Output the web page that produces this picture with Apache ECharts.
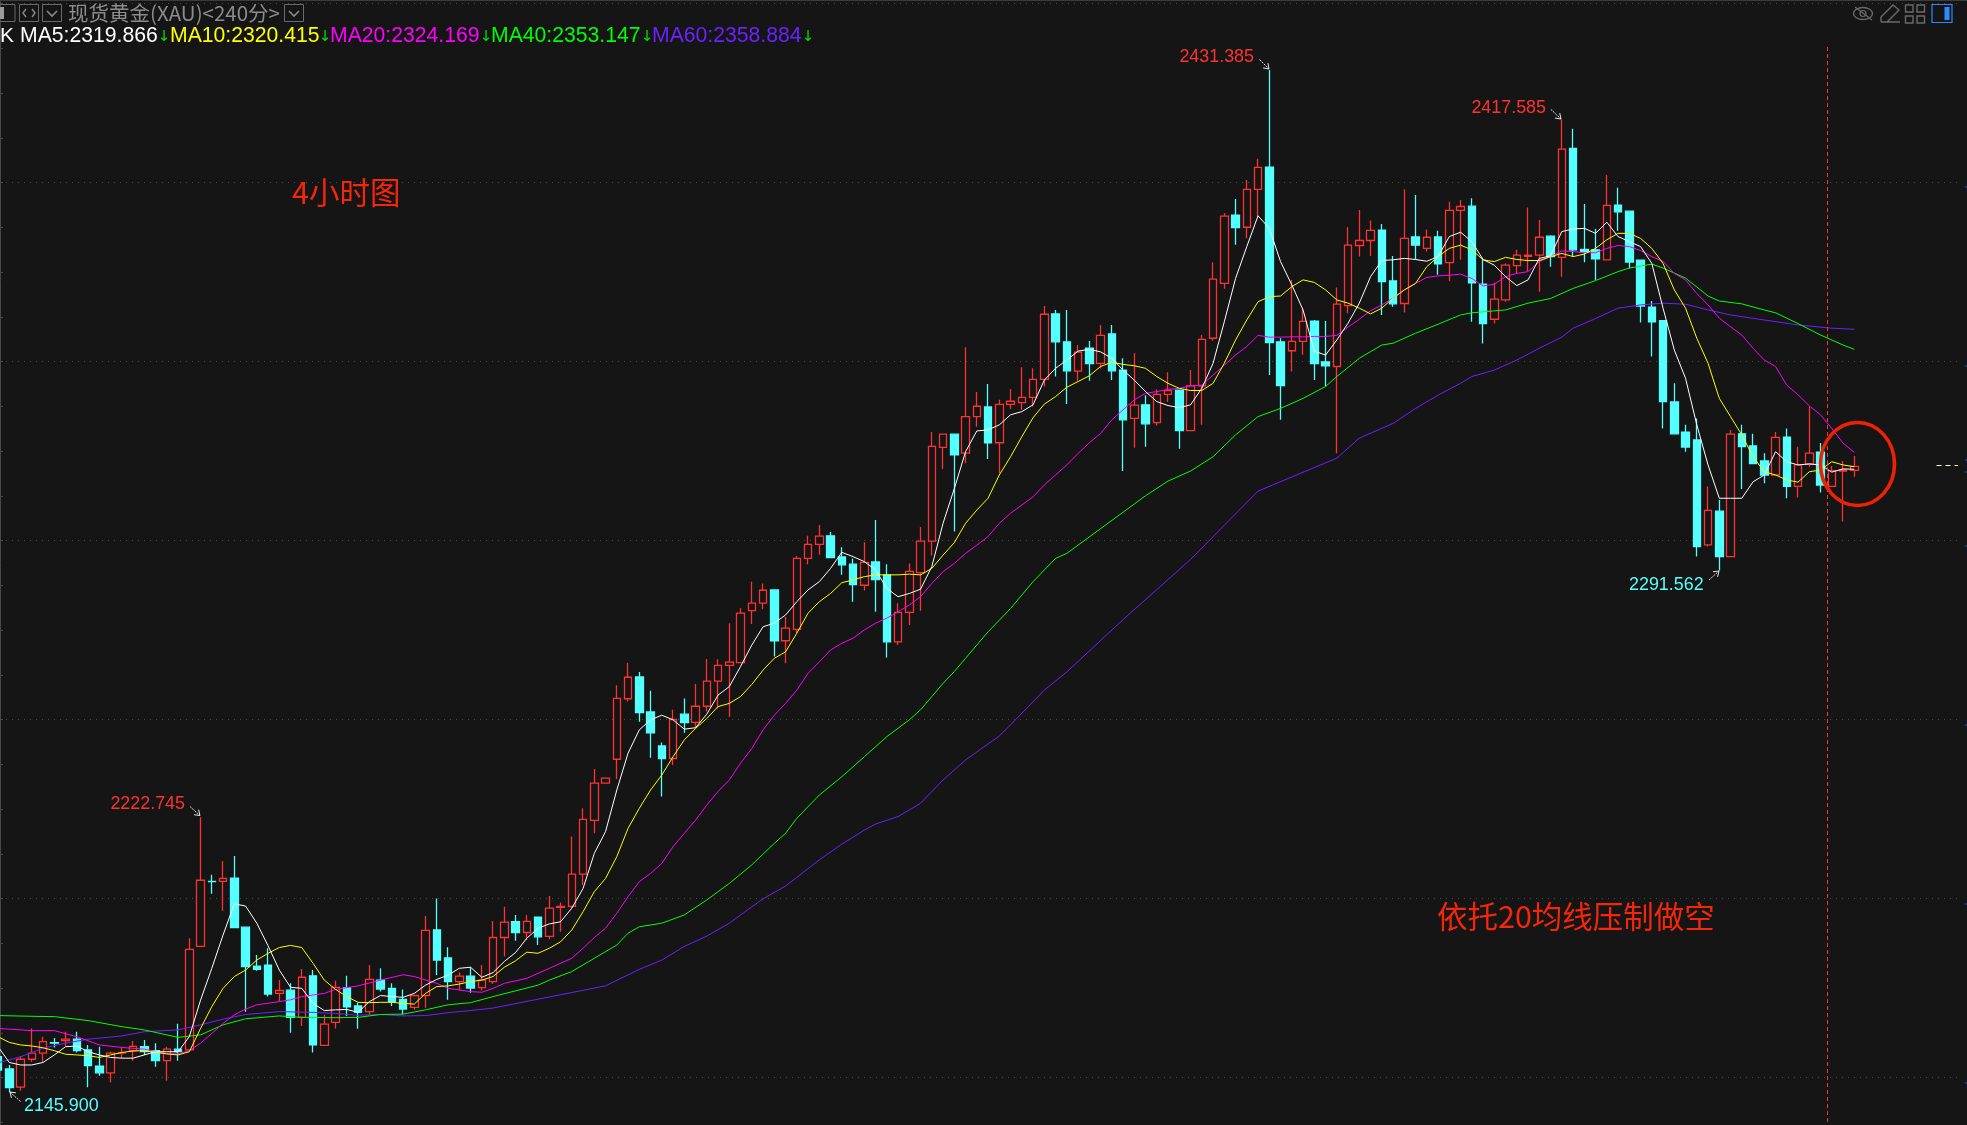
<!DOCTYPE html>
<html><head><meta charset="utf-8">
<style>html,body{margin:0;padding:0;background:#151515}#c{width:1967px;height:1125px}</style>
<script src="https://cdn.jsdelivr.net/npm/echarts@6/dist/echarts.min.js"></script>
</head><body><div id="c"></div>
<script>
const opens=[2155.8,2152.4,2147.3,2155.1,2156.8,2159.7,2160.3,2160.7,2157.7,2153.2,2151.3,2156.8,2157.5,2158.6,2157.5,2154.7,2157.9,2157.7,2186.6,2204.8,2204.8,2205.7,2192.0,2181.1,2181.4,2173.5,2174.4,2166.8,2178.4,2159.0,2165.4,2175.1,2170.0,2168.4,2177.2,2174.9,2171.8,2169.6,2172.9,2191.2,2183.4,2176.8,2178.3,2175.1,2176.8,
2189.1,2193.5,2190.5,2194.8,2189.4,2197.5,2197.8,2206.8,2221.8,2232.2,2238.9,2255.8,2261.9,2252.1,2242.6,2239.1,2251.5,2249.2,2253.7,2260.7,2265.1,2265.9,2280.4,2282.5,2286.2,2272.0,2275.2,2295.0,2298.9,2301.3,2295.4,2293.4,2287.5,2294.0,2290.4,2271.7,2279.9,2291.0,2299.8,
2326.0,2329.7,2324.4,2334.6,2337.3,2327.3,2338.0,2338.5,2340.0,2345.0,2363.3,2355.5,2347.3,2353.7,2349.5,2357.7,2347.6,2334.1,2337.9,2332.9,2340.8,2342.0,2330.7,2343.2,
2356.5,2371.8,2390.9,2387.5,2398.1,2404.3,2355.5,2353.0,2355.6,2361.3,2349.9,2348.6,2365.6,2382.4,2383.8,2386.7,2372.5,2366.2,
2384.8,2381.6,2384.8,2377.6,2392.2,2393.4,2371.6,2361.8,2367.2,2376.8,2379.4,2379.7,2385.0,2379.1,2409.5,2381.3,2381.2,2378.4,2393.7,2392.0,2378.3,2365.2,2361.4,2338.7,2330.3,2328.1,2298.8,2308.2,2295.5,2329.8,2326.4,2322.2,2318.3,2328.9,2315.1,2321.3,2324.7,2315.1,2319.4,2319.6];
const closes=[2152.1,2147.2,2155.1,2156.8,2160.0,2159.6,2160.7,2157.5,2153.3,2151.3,2156.8,2156.9,2158.7,2157.2,2154.7,2157.9,2157.2,2185.8,2205.1,2204.7,2205.6,2191.9,2181.0,2180.2,2173.3,2174.3,2166.8,2178.0,2159.1,2164.9,2175.2,2169.7,2168.2,2177.4,2174.7,2171.2,2169.1,2172.9,2191.1,2182.8,2176.8,2178.3,2175.0,2177.2,2189.1,
2193.4,2190.5,2193.6,2189.3,2197.3,2197.8,2206.8,2222.1,2232.2,2233.6,2255.9,2261.8,2251.9,2246.3,2239.1,2250.0,2249.1,2253.7,2260.7,2265.1,2266.0,2279.7,2282.5,2286.1,2272.0,2275.5,2295.0,2298.9,2301.2,2295.2,2293.2,2287.7,2293.9,2289.1,2271.7,2279.9,2291.4,2299.8,2326.3,
2329.7,2323.9,2334.6,2337.5,2327.3,2338.0,2338.9,2340.0,2345.0,2363.2,2355.5,2347.4,2352.6,2349.4,2357.3,2347.4,2333.7,2337.8,2332.6,2340.8,2341.9,2330.7,2343.2,2356.2,
2373.0,2390.6,2387.4,2398.1,2404.2,2355.3,2343.3,2355.6,2361.2,2349.4,2348.8,2366.0,2382.5,2383.8,2386.6,2372.3,2366.1,2384.4,
2382.5,2384.7,2377.3,2392.2,2393.3,2372.0,2360.6,2367.4,2376.9,2379.7,2379.7,2384.7,2379.3,2409.3,2381.2,2380.6,2378.7,2393.6,2391.8,2377.8,2365.5,2361.1,2338.8,2329.8,2326.1,2298.3,2308.4,2295.5,2329.7,2326.2,2321.5,2318.3,2328.8,2315.1,2321.1,2324.4,2315.5,2319.5,2319.7,2320.7];
const lows=[2151.0,2145.9,2146.3,2154.4,2154.4,2158.4,2158.8,2157.0,2147.3,2150.5,2148.6,2155.4,2154.7,2156.3,2153.0,2149.1,2154.7,2157.5,2186.6,2201.3,2196.6,2191.9,2168.4,2179.8,2172.6,2171.2,2162.5,2164.4,2157.0,2158.9,2163.7,2167.2,2163.6,2167.5,2174.0,2170.0,2167.6,2168.9,2169.5,2178.6,2171.7,2174.4,2173.7,2174.3,2176.1,
2183.8,2188.2,2188.4,2187.0,2188.6,2190.7,2197.3,2203.8,2218.2,2232.2,2233.4,2255.0,2249.4,2239.3,2228.5,2237.3,2246.3,2247.8,2252.2,2253.1,2250.8,2265.7,2276.7,2280.8,2267.6,2265.7,2274.1,2293.4,2296.0,2295.2,2290.4,2282.9,2286.0,2280.1,2267.3,2270.8,2276.4,2280.4,2295.8,
2320.0,2302.5,2321.6,2331.8,2322.8,2318.8,2336.7,2336.5,2337.4,2343.0,2345.8,2338.1,2344.6,2344.6,2348.1,2344.8,2319.4,2325.9,2326.2,2332.1,2338.7,2325.6,2330.7,2332.3,
2355.8,2370.3,2382.6,2384.4,2390.5,2346.2,2333.7,2347.2,2351.8,2344.8,2343.0,2324.4,2363.5,2379.3,2379.5,2363.0,2365.3,2363.7,
2378.5,2380.7,2374.2,2372.5,2378.4,2361.1,2355.0,2360.6,2366.7,2374.6,2375.3,2369.5,2376.5,2373.7,2379.4,2377.7,2372.8,2378.4,2386.5,2376.0,2360.9,2351.4,2331.3,2329.8,2324.8,2295.5,2298.3,2291.6,2295.5,2314.4,2321.5,2316.0,2318.0,2311.8,2312.0,2320.6,2313.4,2315.1,2305.3,2317.8];
const highs=[2158.6,2153.5,2156.0,2163.7,2161.4,2161.0,2162.8,2162.8,2159.1,2158.6,2157.2,2158.3,2160.2,2160.5,2159.6,2158.6,2165.0,2188.9,2222.7,2206.6,2210.5,2211.9,2192.0,2184.2,2186.1,2177.2,2176.3,2180.3,2180.0,2167.5,2177.0,2178.4,2170.9,2181.4,2180.5,2176.3,2174.6,2173.0,2195.1,2200.0,2186.4,2179.3,2180.8,2181.4,2193.7,
2197.7,2195.4,2195.4,2194.9,2200.7,2198.9,2217.3,2225.2,2236.2,2233.6,2259.6,2265.8,2263.3,2258.0,2243.6,2252.7,2255.9,2259.9,2266.9,2266.8,2276.9,2281.1,2288.5,2288.0,2286.2,2278.7,2295.7,2301.3,2304.3,2302.4,2298.1,2295.0,2299.5,2305.7,2293.4,2282.5,2293.6,2303.8,2330.3,
2329.9,2329.7,2354.0,2341.5,2343.7,2339.3,2342.3,2348.4,2348.1,2365.5,2364.4,2364.4,2354.6,2355.7,2360.2,2360.2,2350.9,2352.3,2340.6,2342.2,2347.0,2342.0,2347.6,2357.4,
2377.7,2391.4,2395.4,2400.7,2406.6,2431.4,2356.5,2372.8,2364.9,2361.6,2361.3,2370.7,2387.5,2392.3,2389.4,2388.4,2379.5,2398.1,
2396.5,2386.9,2386.5,2394.6,2395.1,2395.6,2378.5,2372.1,2377.4,2381.2,2393.0,2389.5,2385.3,2417.6,2415.0,2394.0,2387.0,2402.1,2398.5,2392.0,2378.4,2366.9,2361.6,2343.9,2332.3,2334.1,2315.1,2311.3,2330.9,2332.3,2329.8,2324.4,2330.3,2331.3,2326.2,2337.4,2327.2,2320.8,2322.2,2323.6];

const ma5=[2158.6,2154.2,2153.5,2153.5,2154.2,2156.3,2158.6,2158.8,2157.2,2156.3,2155.6,2155.4,2155.4,2156.3,2157.2,2157.2,2157.2,2161.4,2171.6,2180.5,2189.8,2198.5,2197.9,2193.1,2186.8,2180.0,2175.2,2174.9,2170.7,2168.7,2168.9,2169.0,2168.2,2171.2,2172.9,2172.6,2172.4,2173.5,2175.8,2177.4,2178.6,2180.5,2180.8,2178.0,2179.3,
2182.4,2184.9,2188.9,2191.7,2192.9,2193.5,2197.3,2202.8,2212.6,2218.7,2230.3,2240.6,2247.1,2249.9,2251.2,2249.9,2247.3,2247.7,2251.5,2256.8,2259.2,2264.8,2270.8,2275.9,2276.9,2279.2,2282.9,2286.2,2288.5,2292.2,2296.7,2295.5,2294.1,2291.8,2286.6,2284.3,2285.2,2286.4,2292.7,2304.8,
2314.5,2324.8,2330.6,2330.9,2332.3,2335.1,2336.0,2337.9,2344.8,2348.1,2350.4,2352.9,2353.4,2352.7,2350.9,2347.6,2344.8,2341.6,2338.8,2337.7,2337.1,2337.9,2342.5,2349.5,
2361.1,2373.2,2382.1,2390.7,2387.2,2377.9,2371.4,2364.4,2352.9,2351.8,2356.0,2360.7,2366.3,2373.7,2378.2,2378.4,2378.8,
2378.5,2378.0,2379.3,2384.9,2386.1,2383.5,2378.5,2376.9,2373.7,2371.2,2372.8,2378.8,2379.5,2386.3,2387.0,2387.2,2385.8,2388.9,2384.9,2383.5,2382.1,2377.4,2364.9,2353.2,2345.3,2332.3,2321.1,2311.8,2311.8,2311.8,2316.4,2318.3,2324.8,2322.0,2321.1,2321.4,2321.1,2319.1,2320.0,2319.9];
const ma10=[2161.4,2159.8,2159.1,2158.8,2158.3,2157.5,2156.5,2156.3,2156.1,2155.6,2156.3,2157.0,2157.4,2157.5,2157.0,2156.6,2156.3,2157.2,2163.7,2169.8,2174.9,2178.2,2180.0,2182.8,2184.7,2186.3,2186.9,2186.3,2181.9,2177.2,2174.6,2172.6,2171.0,2170.9,2171.0,2171.0,2170.7,2170.5,2173.5,2175.4,2175.6,2176.1,2176.8,2177.2,2178.2,
2180.8,2182.6,2185.0,2184.7,2186.1,2187.9,2191.2,2196.3,2201.9,2205.6,2211.7,2219.6,2225.2,2230.3,2234.5,2239.6,2244.3,2247.5,2250.3,2253.6,2254.5,2256.4,2259.8,2263.8,2267.1,2268.9,2274.1,2279.7,2282.9,2285.2,2288.2,2289.0,2289.9,2290.4,2290.4,2290.4,2290.6,2290.4,2292.2,2295.9,
2299.4,2304.8,2308.5,2311.8,2318.3,2323.4,2329.0,2334.3,2338.1,2340.2,2342.8,2344.4,2346.0,2348.6,2349.8,2349.2,2348.8,2348.1,2345.8,2343.9,2342.5,2341.9,2341.9,2343.9,
2349.5,2356.0,2361.6,2366.7,2368.1,2368.3,2370.9,2372.8,2372.1,2370.0,2367.2,2366.3,2364.9,2363.3,2364.9,2367.7,2370.0,
2371.8,2376.5,2379.3,2381.6,2382.5,2381.2,2378.4,2377.9,2379.1,2378.5,2378.2,2378.2,2379.3,2380.2,2379.3,2380.0,2381.6,2384.0,2385.8,2385.8,2384.4,2381.6,2377.4,2370.0,2364.9,2356.5,2349.5,2339.7,2334.6,2329.5,2323.4,2319.2,2318.3,2316.9,2316.3,2319.2,2319.7,2322.0,2321.1,2320.6];
const ma20=[[0,2163.7],[3,2163.1],[5,2163.1],[7,2161.4],[9,2159.1],[11,2158.4],[13,2157.9],[15,2156.6],[16,2156.6],[17,2157.5],[18,2159.6],[19,2162.3],[20,2165.1],[21,2167.5],[22,2169.1],[23,2170.3],[25,2171.2],[26,2171.7],[27,2172.6],[29,2173.5],[30,2174.6],[32,2175.6],[34,2177.2],[36,2178.7],[37,2178.2],[39,2176.3],[40,2174.9],[42,2174.0],[43,2173.8],[44,2174.9],
[45,2176.3],[47,2177.7],[49,2180.5],[51,2183.3],[52,2186.1],[53,2189.1],[54,2191.7],[55,2195.9],[56,2200.5],[57,2204.7],[58,2207.0],[59,2209.8],[60,2214.5],[61,2218.2],[62,2221.9],[63,2226.1],[64,2229.9],[65,2233.1],[66,2237.8],[67,2241.9],[68,2247.1],[69,2251.2],[70,2254.5],
[71,2258.2],[72,2262.9],[73,2266.1],[74,2269.4],[75,2271.3],[76,2272.7],[77,2275.0],[78,2276.9],[79,2278.3],[80,2280.1],[81,2282.0],[82,2284.3],[83,2288.0],[84,2291.3],[85,2293.6],[86,2296.4],[87,2298.7],[88,2301.1],[89,2304.8],[90,2307.6],[91,2309.9],[92,2312.2],[93,2315.5],[94,2318.3],[95,2321.1],[96,2324.3],
[97,2327.3],[98,2329.9],[99,2333.7],[100,2336.5],[101,2339.3],[102,2341.1],[103,2341.6],[104,2342.2],[105,2342.5],[106,2343.2],[107,2343.4],[108,2346.2],
[109,2349.0],[110,2351.8],[111,2354.2],[112,2357.3],[113,2356.8],[114,2356.8],[115,2356.9],[116,2356.9],[117,2357.0],[118,2357.0],[119,2357.3],[120,2359.6],[121,2361.8],[122,2364.2],[123,2365.8],[124,2367.7],[125,2370.0],[126,2371.8],[127,2373.5],[128,2373.9],[129,2374.1],[130,2374.4],[131,2373.2],[132,2371.1],[133,2371.6],
[134,2373.7],[135,2374.6],[136,2375.1],[137,2377.9],[138,2379.3],[139,2380.9],[140,2380.7],[141,2380.4],[142,2380.4],[143,2381.6],[144,2382.4],[145,2382.1],[146,2381.0],[147,2379.3],[148,2378.0],[149,2374.6],[150,2372.8],[151,2369.0],[152,2365.8],[153,2362.1],[154,2359.7],[155,2357.4],[156,2353.7],[157,2350.4],[158,2348.6],[159,2343.4],[160,2340.7],[161,2337.6],[162,2335.1],[163,2331.3],[164,2327.2],[165,2324.6]];
const ma40=[[0,2167.3],[3,2167.1],[5,2167.0],[8,2165.9],[11,2164.2],[13,2163.3],[15,2161.9],[16,2161.2],[18,2161.9],[20,2164.7],[22,2166.4],[25,2167.2],[27,2166.8],[30,2166.7],[32,2166.8],[34,2167.6],[36,2167.7],[38,2168.9],[40,2170.3],[42,2170.9],[44,2172.6],
[48,2175.8],[49,2177.2],[51,2179.6],[53,2183.3],[55,2187.0],[56,2190.3],[57,2192.1],[59,2193.1],[61,2195.4],[63,2199.6],[65,2204.2],[67,2209.4],[69,2215.4],[70,2218.2],[71,2222.4],[73,2228.9],[75,2234.0],[77,2239.6],[79,2245.2],
[81,2249.9],[82,2252.7],[83,2256.4],[84,2260.1],[85,2263.4],[86,2267.1],[88,2274.5],[90,2281.0],[92,2288.5],[94,2295.0],[95,2296.4],[102,2312.5],[104,2316.6],[106,2319.4],[108,2323.4],
[110,2329.5],[112,2334.6],[114,2336.9],[116,2339.7],[118,2343.0],[119,2345.8],[121,2350.9],[123,2354.6],[124,2355.1],[126,2357.9],[128,2360.4],[130,2363.0],[131,2363.6],[134,2364.4],[136,2366.3],[138,2367.6],[140,2370.4],[142,2372.6],[144,2375.1],[145,2376.1],[147,2377.2],[148,2376.1],[150,2373.3],[152,2368.3],[153,2366.9],[155,2366.1],[157,2364.4],[158,2363.6],[160,2360.6],[162,2357.4],[164,2354.6],[165,2353.4]];
const ma60=[[0,2154.1],[2,2155.8],[4,2158.2],[6,2159.6],[8,2160.7],[11,2161.6],[13,2162.8],[16,2163.3],[18,2164.7],[20,2166.3],[22,2167.6],[25,2168.4],[28,2168.2],[30,2167.9],[32,2167.4],[34,2167.6],[36,2167.2],[38,2167.3],[40,2168.1],[42,2168.7],[44,2169.4],
[54,2175.6],[57,2180.2],[59,2182.8],[61,2186.6],[63,2189.5],[65,2193.1],[66,2195.4],[68,2199.9],[70,2203.5],[71,2205.9],[73,2210.8],[75,2215.2],[77,2219.1],[78,2220.8],[80,2222.9],[82,2226.6],[84,2233.1],[86,2238.7],[89,2245.4],[90,2248.5],[93,2258.2],[95,2263.3],[96,2266.2],
[100,2277.9],[106,2294.7],[112,2313.8],[119,2323.0],[121,2328.6],[124,2332.7],[126,2336.9],[128,2340.6],[130,2343.9],[131,2345.8],[133,2347.6],[135,2350.4],[137,2353.7],[139,2356.8],[140,2359.3],[142,2362.0],[144,2364.9],[146,2365.8],[148,2366.3],[150,2366.0],[152,2364.4],[154,2363.0],[157,2361.6],[160,2360.2],[163,2359.3],[165,2359.0]];

const categories=[];for(let i=0;i<175;i++)categories.push('K'+(i+1));
const maNames=['MA5','MA10','MA20','MA40','MA60'];
const maReadout=['2319.866','2320.415','2324.169','2353.147','2358.884'];
const maColors=['#ffffff','#ffff00','#ff00ff','#00ff00','#6a22ff'];
const title='现货黄金(XAU)<240分>';
const note1='4小时图',note2='依托20均线压制做空';

const RED='#ff3232',CYAN='#54ffff',BG='#151515',NOTE='#f5260a',ICON='#6a6a6a';
const candleData=opens.map((o,i)=>[o,closes[i],lows[i],highs[i]]);

function txt(x,y,t,fill,size,font,align){return {type:'text',silent:true,z:50,style:{x,y,text:t,fill,font:size+'px '+(font||'"Liberation Sans",Arial,sans-serif'),textAlign:align||'left',textVerticalAlign:'middle'}};}
function ln(x1,y1,x2,y2,c,w,dash){return {type:'line',silent:true,z:50,shape:{x1,y1,x2,y2},style:{stroke:c,lineWidth:w||1,lineDash:dash||null}};}
function box(x,y,w,h,c,fill,lw){return {type:'rect',silent:true,z:50,shape:{x,y,width:w,height:h},style:{stroke:c,fill:fill||'none',lineWidth:lw||1}};}
function arrow(x1,y1,x2,y2){const a=Math.atan2(y2-y1,x2-x1),L=6;
 return [ln(x1,y1,x2,y2,'#e8e8e8',1,[2,1]),
  ln(x2,y2,x2-L*Math.cos(a-0.6),y2-L*Math.sin(a-0.6),'#e8e8e8',1),
  ln(x2,y2,x2-L*Math.cos(a+0.6),y2-L*Math.sin(a+0.6),'#e8e8e8',1)];}

const g=[];
g.push({type:'rect',silent:true,z:40,shape:{x:0,y:0,width:1967,height:1},style:{fill:'#3c3c3c'}});
g.push(box(-2,4.5,17,17,ICON));g.push({type:'rect',silent:true,z:50,shape:{x:0,y:7,width:4,height:12},style:{fill:'#9a9a9a'}});
g.push(box(19.5,4.5,19,17,ICON));
g.push({type:'polyline',silent:true,z:50,shape:{points:[[26,9],[23,13],[26,17]]},style:{stroke:'#8a8a8a',fill:'none',lineWidth:1.4}});
g.push({type:'polyline',silent:true,z:50,shape:{points:[[32,9],[35,13],[32,17]]},style:{stroke:'#8a8a8a',fill:'none',lineWidth:1.4}});
g.push(box(42.5,4.5,19,17,ICON));
g.push({type:'polyline',silent:true,z:50,shape:{points:[[47,11],[52,16],[57,11]]},style:{stroke:'#8a8a8a',fill:'none',lineWidth:1.6}});
g.push(box(284.5,4.5,19,17,ICON));
g.push({type:'polyline',silent:true,z:50,shape:{points:[[289,11],[294,16],[299,11]]},style:{stroke:'#8a8a8a',fill:'none',lineWidth:1.6}});
g.push(txt(68,13,title,'#8c8c8c',20.5,'"Noto Sans CJK SC",sans-serif'));
g.push(txt(0,36.5,'K','#ffffff',21));
const maX=[20,170,330,491,652],arrX=[164,325,486,647,808];
maNames.forEach((n,i)=>{g.push(txt(maX[i],36.5,n+':'+maReadout[i],maColors[i],21.2));
 g.push(txt(arrX[i],37.5,'↓','#00e000',15,'"DejaVu Sans",sans-serif','center'));});
g.push({type:'ellipse',silent:true,z:50,shape:{cx:1863,cy:13.5,rx:9.5,ry:6},style:{stroke:ICON,fill:'none',lineWidth:1.4}});
g.push({type:'circle',silent:true,z:50,shape:{cx:1863,cy:13.5,r:3},style:{stroke:ICON,fill:'none',lineWidth:1.2}});
g.push(ln(1855,7,1872,20,ICON,1.2));
g.push({type:'polyline',silent:true,z:50,shape:{points:[[1881,22],[1881,17],[1893,5],[1899,10],[1887,22],[1881,22],[1900,22]]},style:{stroke:ICON,fill:'none',lineWidth:1.4}});
[[1905.5,5],[1917,5],[1905.5,16],[1917,16]].forEach(p=>g.push(box(p[0],p[1],7.5,7,ICON,'none',1.4)));
g.push(box(1932,4.5,20,18,'#2a8cff','none',1.2));
g.push({type:'rect',silent:true,z:50,shape:{x:1944.5,y:7,width:5,height:13},style:{fill:'#2a8cff'}});
g.push(txt(1254,57.5,'2431.385',RED,17.9,null,'right'));
g.push(txt(1546,108,'2417.585',RED,17.9,null,'right'));
g.push(txt(185,804.5,'2222.745',RED,17.9,null,'right'));
g.push(txt(24,1106.5,'2145.900',CYAN,17.9));
g.push(txt(1629,585,'2291.562',CYAN,17.9));
g.push(...arrow(1259.5,59.5,1269,69),...arrow(1551,109.5,1561,119),...arrow(190,806.5,200,815.5),...arrow(20.5,1101.5,10,1092),...arrow(1709,580,1719,571));
g.push(txt(292,192,note1,NOTE,30.5,'"Noto Sans CJK SC",sans-serif'));
g.push(txt(1437,916,note2,NOTE,30.5,'"Noto Sans CJK SC",sans-serif'));
g.push(ln(1827.5,47,1827.5,1125,RED,1,[4,3]));
g.push({type:'ellipse',silent:true,z:50,shape:{cx:1857.5,cy:464,rx:37,ry:41.5},style:{stroke:'#ee2200',fill:'none',lineWidth:3.6}});
g.push(ln(1936.5,465.5,1958,465.5,'#ffffc8',1,[5,4]));
[187,366,546,725,904,1083,460,472].forEach(y=>g.push(ln(1965,y,1967,y,'#2a5fa8',1.2)));

const lineS=(name,data,color)=>({name,type:'line',data,xAxisIndex:0,yAxisIndex:0,showSymbol:false,symbol:'none',smooth:false,
  lineStyle:{color,width:1},itemStyle:{color},silent:true,animation:false,z:5});

const chart=echarts.init(document.getElementById('c'),null,{renderer:'canvas',width:1967,height:1125});
chart.setOption({
 animation:false,backgroundColor:BG,
 grid:[{left:-7.575,top:-175.5,width:1968.75,height:1432,containLabel:false,outerBoundsMode:'none'},
       {left:0,top:-175.5,width:1959.3,height:1432,containLabel:false,outerBoundsMode:'none'}],
 xAxis:[{type:'category',gridIndex:0,data:categories,boundaryGap:true,show:false},
        {type:'value',gridIndex:1,show:false,min:0,max:1}],
 yAxis:[{type:'value',gridIndex:0,min:2100,max:2500,interval:50,show:false},
        {type:'value',gridIndex:1,min:2100,max:2500,interval:50,position:'right',
         axisLine:{show:true,lineStyle:{color:'#484848',width:1}},
         axisTick:{show:true,length:3,lineStyle:{color:'#484848'}},
         minorTick:{show:true,splitNumber:4,length:3,lineStyle:{color:'#484848'}},
         axisLabel:{show:false},
         splitLine:{show:true,lineStyle:{color:'#4a4a4a',width:1,type:[1,5]}},
         minorSplitLine:{show:false}}],
 series:[
  {name:'K',type:'candlestick',data:candleData,xAxisIndex:0,yAxisIndex:0,barWidth:8,silent:true,z:3,
   itemStyle:{color:BG,color0:CYAN,borderColor:RED,borderColor0:CYAN,borderWidth:1.3}},
  lineS('MA60',ma60,maColors[4]),lineS('MA40',ma40,maColors[3]),lineS('MA20',ma20,maColors[2]),
  lineS('MA10',ma10,maColors[1]),lineS('MA5',ma5,maColors[0])
 ],
 graphic:{elements:g}
});
</script></body></html>
